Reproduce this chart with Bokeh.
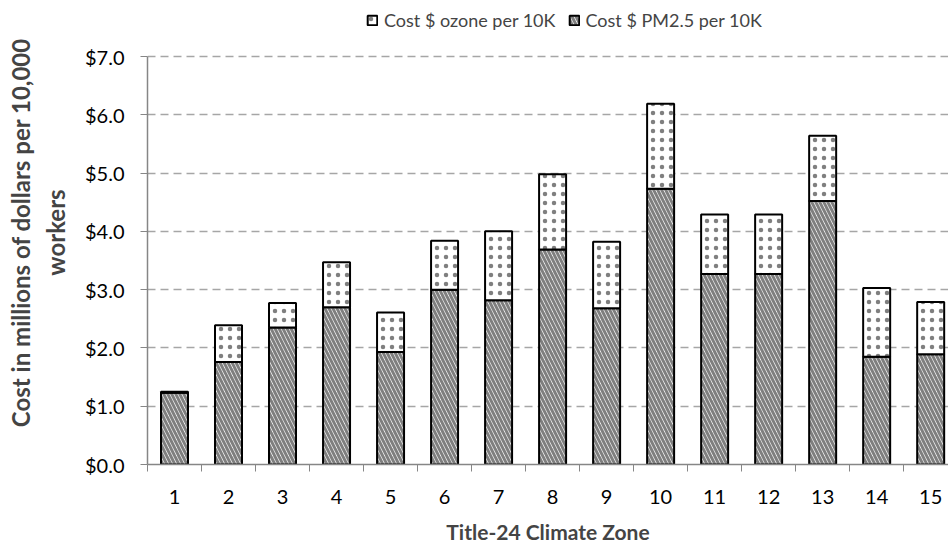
from bokeh.plotting import figure
from bokeh.models import (FixedTicker, NumeralTickFormatter, ColumnDataSource,
                          Legend, LegendItem, Range1d)
from bokeh.embed import file_html
from bokeh.resources import INLINE

# ---- data ----
zones = list(range(1, 16))
zone_labels = [str(z) for z in zones]
pm25 = [1.23, 1.76, 2.35, 2.70, 1.93, 3.00, 2.82, 3.69, 2.68, 4.73, 3.27, 3.27, 4.52, 1.85, 1.89]
ozone = [0.02, 0.63, 0.42, 0.77, 0.68, 0.84, 1.18, 1.29, 1.14, 1.46, 1.02, 1.02, 1.12, 1.18, 0.90]
y_ticks = [0, 1, 2, 3, 4, 5, 6, 7]
series_names = ["Cost $ ozone per 10K", "Cost $ PM2.5 per 10K"]
x_title = "Title-24 Climate Zone"
y_title = "Cost in millions of dollars per 10,000\nworkers"

FONT = "Lato"
FS = "20px"

total = [a + b for a, b in zip(pm25, ozone)]
src = ColumnDataSource(dict(zone=zones, pm25=pm25, ozone=ozone, total=total))

# frame extends above y=7 to hold the legend
p = figure(width=948, height=552, output_backend="svg", toolbar_location=None,
           x_range=Range1d(0.5, 15.33), y_range=Range1d(0, 7.961),
           min_border_left=147, min_border_right=0, min_border_top=0, min_border_bottom=88)
p.outline_line_color = None
p.background_fill_color = "white"
p.border_fill_color = "white"

r_pm = p.vbar(x="zone", bottom=0, top="pm25", width=0.5, source=src,
              fill_color="white", line_color="black", line_width=2,
              hatch_pattern="left_diagonal_line", hatch_color="#7F7F7F",
              hatch_scale=8, hatch_weight=3)
r_oz = p.vbar(x="zone", bottom="pm25", top="total", width=0.5, source=src,
              fill_color="white", line_color="black", line_width=2,
              hatch_pattern="dot", hatch_color="#7F7F7F",
              hatch_scale=9, hatch_weight=1.1)

# axes
xa = p.xaxis[0]
xa.ticker = FixedTicker(ticks=zones, minor_ticks=[z - 0.5 for z in zones] + [15.5])
xa.major_label_overrides = {z: l for z, l in zip(zones, zone_labels)}
xa.major_tick_out = 0
xa.major_tick_in = 0
xa.minor_tick_out = 7
xa.minor_tick_in = 0
xa.minor_tick_line_color = "#868686"
xa.axis_line_color = "#868686"
xa.axis_line_width = 1.5
xa.major_label_standoff = 18
xa.major_label_text_font = FONT
xa.major_label_text_font_size = FS
xa.major_label_text_color = "black"
xa.axis_label = x_title
xa.axis_label_text_font = FONT
xa.axis_label_text_font_size = "21px"
xa.axis_label_text_font_style = "bold"
xa.axis_label_standoff = 12

ya = p.yaxis[0]
ya.ticker = FixedTicker(ticks=y_ticks, minor_ticks=[])
ya.bounds = (0, 7)
ya.formatter = NumeralTickFormatter(format="$0.0")
ya.major_tick_out = 7
ya.major_tick_in = 0
ya.minor_tick_out = 0
ya.major_tick_line_color = "#868686"
ya.axis_line_color = "#868686"
ya.axis_line_width = 1.5
ya.major_label_standoff = 16
ya.major_label_text_font = FONT
ya.major_label_text_font_size = FS
ya.major_label_text_color = "black"
ya.axis_label = y_title
ya.axis_label_text_font = FONT
ya.axis_label_text_font_size = "24px"
ya.axis_label_text_font_style = "bold"
ya.axis_label_text_line_height = 1.2
ya.axis_label_standoff = 12

p.xgrid.grid_line_color = None
p.ygrid.ticker = FixedTicker(ticks=y_ticks[1:])
p.ygrid.grid_line_color = "#A6A6A6"
p.ygrid.grid_line_dash = "8 5"
p.ygrid.grid_line_width = 1.5

legend = Legend(items=[LegendItem(label=series_names[0], renderers=[r_oz]),
                       LegendItem(label=series_names[1], renderers=[r_pm])],
                orientation="horizontal", location=(219, 433),
                label_text_font=FONT, label_text_font_size="18px",
                glyph_width=12, glyph_height=12, spacing=12, padding=0, margin=0,
                label_standoff=6, border_line_color=None,
                background_fill_alpha=0)
p.add_layout(legend, "center")

open("out.html", "w").write(file_html(p, INLINE))
